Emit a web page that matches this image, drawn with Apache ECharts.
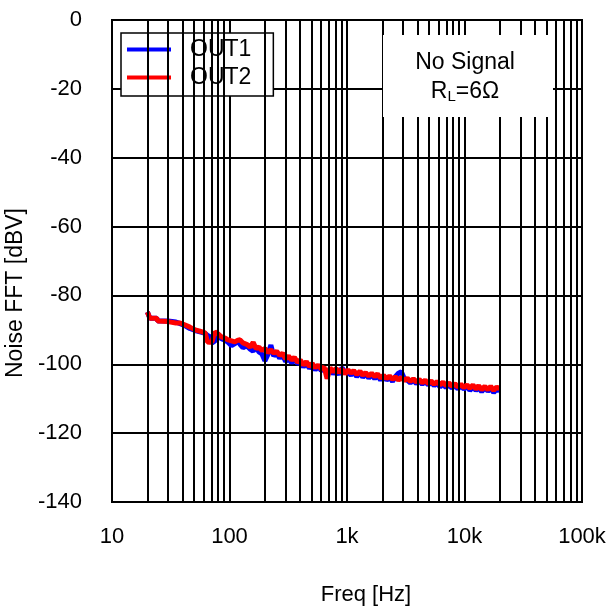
<!DOCTYPE html>
<html>
<head>
<meta charset="utf-8">
<script src="https://cdn.jsdelivr.net/npm/echarts@6/dist/echarts.min.js"></script>
<style>html,body{margin:0;padding:0;background:#fff;}#c{width:609px;height:608px;}</style>
</head>
<body>
<div id="c"></div>
<script>
const freq = [20, 21, 24, 24.5, 30, 35, 38, 42, 46, 51, 56, 62, 65, 68, 71, 75, 80, 86, 92, 97, 104, 111, 118, 123, 130, 140,
  150, 159, 168, 178, 189, 200, 212, 225, 238, 252, 267, 283, 300, 318, 337, 357, 379, 401, 425, 451,
  478, 506, 537, 569, 603, 639, 677, 718, 761, 807, 855, 906, 961, 1020, 1080, 1140, 1210, 1290, 1360, 1440,
  1530, 1620, 1720, 1820, 1930, 2050, 2170, 2300, 2440, 2580, 2740, 2900, 3080, 3260, 3460, 3670, 3890, 4120, 4370, 4630,
  4910, 5200, 5510, 5840, 6190, 6570, 6960, 7380, 7820, 8290, 8790, 9320, 9880, 10500, 11100, 11800, 12500, 13200, 14000, 14900,
  15800, 16700, 17700, 18800, 19900];
const out1 = [-84.8, -86.6, -86.6, -87.4, -87.4, -87.7, -88.2, -88.8, -89.6, -90.2, -90.6, -91.0, -91.6, -92.0, -93.8, -93.2, -92.0, -92.6, -93.0, -93.6, -94.6, -94.0, -93.4, -94.2, -95.2, -94.6,
  -95.6, -96.2, -95.0, -96.4, -97.0, -99.0, -97.2, -94.4, -97.6, -96.8, -98.2, -97.2, -99.2, -98.4, -99.6, -98.6, -99.8, -99.2, -100.8, -99.6,
  -101.2, -100.2, -101.6, -100.6, -101.8, -101.4, -102.4, -101.4, -102.8, -101.6, -103.0, -101.0, -102.2, -102.4, -103.2, -102.2, -103.6, -102.4, -103.8, -102.8,
  -104.0, -103.0, -104.2, -103.2, -104.6, -103.4, -104.6, -103.8, -105.0, -103.6, -102.6, -102.2, -104.2, -104.6, -105.4, -104.6, -105.6, -104.8, -105.8, -105.0,
  -106.0, -105.2, -106.2, -105.4, -106.6, -105.6, -106.8, -105.8, -107.0, -106.0, -107.2, -106.2, -107.2, -106.4, -107.6, -106.6, -107.6, -106.8, -108.0, -106.8,
  -107.8, -107.0, -108.2, -107.2, -107.8];
const out2 = [-84.8, -86.6, -86.6, -87.4, -87.6, -88.0, -88.0, -88.6, -89.2, -90.0, -90.4, -90.9, -93.5, -93.6, -93.4, -90.6, -91.2, -92.1, -92.4, -92.9, -93.2, -93.5, -93.0, -92.9, -93.8, -94.2,
  -95.0, -93.6, -95.4, -95.0, -96.0, -95.4, -96.6, -95.8, -96.8, -96.2, -97.4, -96.8, -98.4, -97.6, -98.8, -98.0, -99.4, -98.8, -100.2, -99.2,
  -100.6, -99.8, -101.0, -100.2, -101.4, -100.8, -104.2, -101.0, -102.2, -101.2, -102.4, -101.4, -102.8, -101.6, -102.6, -101.8, -103.0, -102.0, -103.2, -102.4,
  -103.4, -102.6, -103.6, -102.8, -104.0, -103.2, -104.2, -103.4, -104.4, -103.6, -104.6, -103.8, -104.8, -104.0, -105.0, -104.2, -105.2, -104.4, -105.4, -104.6,
  -105.6, -104.8, -105.8, -105.0, -106.0, -105.2, -106.2, -105.4, -106.4, -105.6, -106.6, -105.8, -106.8, -106.0, -107.0, -106.0, -107.2, -106.2, -107.4, -106.4,
  -107.4, -106.4, -107.6, -106.6, -107.2];
const seriesNames = ['OUT1', 'OUT2'];
const xTickLabels = {10: '10', 100: '100', 1000: '1k', 10000: '10k', 100000: '100k'};
const yTicks = [0, -20, -40, -60, -80, -100, -120, -140];
const decades = [10, 100, 1000, 10000];
const minorMult = [2, 3, 4, 5, 6, 7, 8, 9];

const minorLines = [];
decades.forEach(d => minorMult.forEach(m => minorLines.push({xAxis: d * m})));

const FONT = '"Liberation Sans", Arial, sans-serif';
const chart = echarts.init(document.getElementById('c'), null, {renderer: 'canvas'});
chart.setOption({
  animation: false,
  backgroundColor: '#fff',
  grid: {left: 112, right: 27, top: 20, bottom: 106, containLabel: false, outerBoundsMode: 'none',
    show: true, borderColor: '#000', borderWidth: 2, backgroundColor: 'transparent'},
  xAxis: {
    type: 'log', logBase: 10, min: 10, max: 100000,
    name: 'Freq [Hz]', nameLocation: 'middle', nameGap: 82,
    nameTextStyle: {fontSize: 22, color: '#000', fontFamily: FONT, padding: [0, 0, 0, 38]},
    axisLine: {show: true, lineStyle: {color: '#000', width: 2}},
    axisTick: {show: false},
    axisLabel: {fontSize: 22, color: '#000', fontFamily: FONT, margin: 24, formatter: v => xTickLabels[Math.round(v)] || ''},
    splitLine: {show: true, lineStyle: {color: '#000', width: 2}}
  },
  yAxis: {
    type: 'value', min: -140, max: 0, interval: 20,
    name: 'Noise FFT [dBV]', nameLocation: 'middle', nameGap: 82,
    nameTextStyle: {fontSize: 23, color: '#000', fontFamily: FONT, padding: [0, 64, 0, 0]},
    axisLine: {show: true, lineStyle: {color: '#000', width: 2}},
    axisTick: {show: false},
    axisLabel: {fontSize: 22, color: '#000', fontFamily: FONT, margin: 30, formatter: v => yTicks.includes(v) ? String(v) : ''},
    splitLine: {show: true, lineStyle: {color: '#000', width: 2}}
  },
  legend: {
    data: seriesNames, orient: 'vertical', left: 121, top: 33,
    icon: 'rect', itemWidth: 44, itemHeight: 4, itemGap: 5,
    padding: [5, 22, 7, 6],
    backgroundColor: '#fff', borderColor: '#000', borderWidth: 1.5,
    formatter: name => '{g|}{t|' + name + '}',
    textStyle: {fontSize: 23, color: '#000', fontFamily: FONT,
      rich: {g: {width: 14}, t: {fontSize: 23, color: '#000', fontFamily: FONT}}}
  },
  graphic: [
    {type: 'rect', left: 383, top: 35, z: 100, shape: {width: 170, height: 82}, style: {fill: '#fff'}},
    {type: 'text', x: 465, y: 63, z: 101, style: {text: 'No Signal', fontSize: 23, fontFamily: FONT, fill: '#000', align: 'center', verticalAlign: 'middle'}},
    {type: 'text', x: 465, y: 92, z: 101, style: {text: '{a|R}{s|L}{a|=6Ω}', align: 'center', verticalAlign: 'middle', fill: '#000',
      rich: {a: {fontSize: 23, fontFamily: FONT, fill: '#000'}, s: {fontSize: 15, fontFamily: FONT, fill: '#000', padding: [10, 0, 0, 0]}}}}
  ],
  series: [
    {type: 'line', name: 'grid', data: [], silent: true, z: 1,
      markLine: {silent: true, symbol: ['none', 'none'], label: {show: false}, animation: false,
        lineStyle: {color: '#000', width: 2, type: 'solid'}, data: minorLines}},
    {type: 'line', name: seriesNames[0], data: freq.map((f, i) => [f, out1[i]]), showSymbol: false, z: 3,
      lineStyle: {color: '#0000ff', width: 5}, itemStyle: {color: '#0000ff'}},
    {type: 'line', name: seriesNames[1], data: freq.map((f, i) => [f, out2[i]]), showSymbol: false, z: 4,
      lineStyle: {color: '#ff0000', width: 5}, itemStyle: {color: '#ff0000'}}
  ]
});
</script>
</body>
</html>
